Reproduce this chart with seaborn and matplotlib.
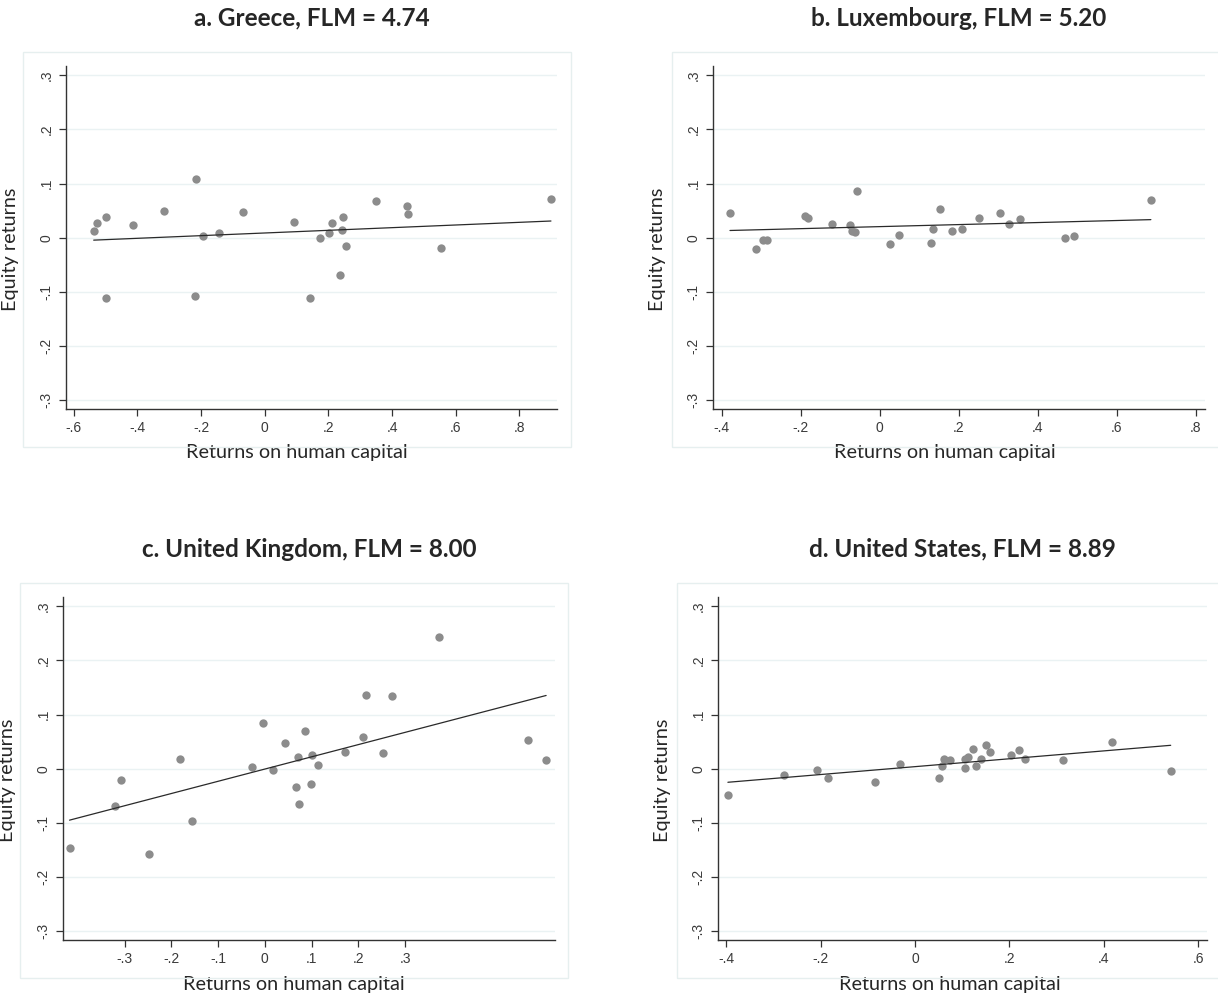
import matplotlib
matplotlib.use('Agg')
import matplotlib.pyplot as plt
import seaborn as sns
from matplotlib.patches import Rectangle

sns.set_style('ticks')
plt.rcParams['font.family'] = ['Lato', 'DejaVu Sans']

# Data
titles = ['a. Greece, FLM = 4.74', 'b. Luxembourg, FLM = 5.20',
          'c. United Kingdom, FLM = 8.00', 'd. United States, FLM = 8.89']

greece_x = [-0.537, -0.527, -0.499, -0.499, -0.415, -0.316, -0.217, -0.218, -0.193, -0.143,
            -0.068, 0.092, 0.143, 0.173, 0.201, 0.210, 0.245, 0.243, 0.237, 0.256,
            0.349, 0.446, 0.449, 0.555, 0.899]
greece_y = [0.013, 0.028, 0.038, -0.112, 0.023, 0.049, 0.108, -0.107, 0.003, 0.009,
            0.047, 0.030, -0.111, 0.000, 0.008, 0.027, 0.038, 0.014, -0.069, -0.015,
            0.067, 0.058, 0.043, -0.018, 0.071]

lux_x = [-0.379, -0.313, -0.296, -0.285, -0.189, -0.182, -0.121, -0.076, -0.069, -0.063,
         -0.057, 0.026, 0.049, 0.129, 0.134, 0.153, 0.183, 0.209, 0.251, 0.304,
         0.326, 0.355, 0.468, 0.491, 0.686]
lux_y = [0.046, -0.021, -0.004, -0.004, 0.040, 0.036, 0.025, 0.023, 0.013, 0.011,
         0.086, -0.012, 0.006, -0.010, 0.017, 0.054, 0.012, 0.017, 0.036, 0.045,
         0.026, 0.034, -0.001, 0.003, 0.069]

uk_x = [-0.418, -0.320, -0.307, -0.249, -0.182, -0.156, -0.028, -0.003, 0.018, 0.044,
        0.066, 0.071, 0.074, 0.087, 0.099, 0.101, 0.113, 0.172, 0.211, 0.217,
        0.252, 0.273, 0.372, 0.563, 0.602]
uk_y = [-0.146, -0.068, -0.021, -0.157, 0.018, -0.097, 0.004, 0.085, -0.003, 0.047,
        -0.034, 0.022, -0.065, 0.070, -0.029, 0.025, 0.007, 0.031, 0.059, 0.137,
        0.030, 0.134, 0.244, 0.054, 0.017]

us_x = [-0.397, -0.277, -0.207, -0.184, -0.084, -0.033, 0.051, 0.057, 0.061, 0.075,
        0.105, 0.106, 0.113, 0.123, 0.130, 0.140, 0.151, 0.158, 0.203, 0.221,
        0.234, 0.314, 0.417, 0.542]
us_y = [-0.049, -0.011, -0.003, -0.017, -0.025, 0.009, -0.017, 0.006, 0.018, 0.017,
        0.018, 0.001, 0.021, 0.036, 0.005, 0.018, 0.043, 0.031, 0.026, 0.035,
        0.018, 0.016, 0.050, -0.005]

y_ticks = [-0.3, -0.2, -0.1, 0, 0.1, 0.2, 0.3]
y_labels = ['-.3', '-.2', '-.1', '0', '.1', '.2', '.3']
greece_ticks = [-0.6, -0.4, -0.2, 0, 0.2, 0.4, 0.6, 0.8]
greece_labels = ['-.6', '-.4', '-.2', '0', '.2', '.4', '.6', '.8']
lux_ticks = [-0.4, -0.2, 0, 0.2, 0.4, 0.6, 0.8]
lux_labels = ['-.4', '-.2', '0', '.2', '.4', '.6', '.8']
uk_ticks = [-0.3, -0.2, -0.1, 0, 0.1, 0.2, 0.3]
uk_labels = ['-.3', '-.2', '-.1', '0', '.1', '.2', '.3']
us_ticks = [-0.4, -0.2, 0, 0.2, 0.4, 0.6]
us_labels = ['-.4', '-.2', '0', '.2', '.4', '.6']

panels = [
    (greece_x, greece_y, greece_ticks, greece_labels, (-0.624, 0.918)),
    (lux_x, lux_y, lux_ticks, lux_labels, (-0.422, 0.823)),
    (uk_x, uk_y, uk_ticks, uk_labels, (-0.432, 0.621)),
    (us_x, us_y, us_ticks, us_labels, (-0.418, 0.619)),
]

W, H = 1218, 996
# axes boxes in pixels: left, right, top, bottom
boxes = [(66, 557, 66, 409), (713, 1205, 66, 409),
         (63, 555, 597, 940), (718, 1207, 597, 940)]
# light outer frames: left, right, top, bottom
frames = [(23, 571, 52, 447), (672, 1220, 52, 447),
          (20, 568, 583, 978), (677, 1220, 583, 978)]
# x-axis title anchor (centre x, top y) in pixels
xlabel_pos = [(297, 444), (945, 444), (294, 976), (950, 976)]

fig = plt.figure(figsize=(W / 100, H / 100), dpi=100)

for i, (x, y, xt, xl, xlim) in enumerate(panels):
    l, r, t, b = boxes[i]
    fl, fr, ft, fb = frames[i]
    fig.patches.append(Rectangle((fl / W, 1 - fb / H), (fr - fl) / W, (fb - ft) / H,
                                 transform=fig.transFigure, fill=False,
                                 edgecolor='#e6efef', lw=1))
    ax = fig.add_axes([l / W, 1 - b / H, (r - l) / W, (b - t) / H])
    for yy in y_ticks:
        ax.axhline(yy, color='#eaf2f3', lw=1, zorder=0)
    sns.regplot(x=x, y=y, ax=ax, ci=None,
                scatter_kws=dict(s=36, color='#8c8c8c', linewidths=0, alpha=1),
                line_kws=dict(color='#2a2a2a', lw=0.9))
    ax.set_xlim(*xlim)
    ax.set_ylim(-0.316, 0.317)
    ax.set_xticks(xt)
    ax.set_xticklabels(xl, fontfamily='Liberation Sans', fontsize=10, color='#3a3a3a')
    ax.set_yticks(y_ticks)
    ax.set_yticklabels(y_labels, fontfamily='Liberation Sans', fontsize=10, color='#3a3a3a',
                       rotation=90, va='center')
    ax.tick_params(length=5, width=0.9, color='#333333')
    ax.tick_params(axis='x', pad=3.5)
    ax.tick_params(axis='y', pad=4)
    for s in ['top', 'right']:
        ax.spines[s].set_visible(False)
    for s in ['left', 'bottom']:
        ax.spines[s].set_color('#333333')
        ax.spines[s].set_linewidth(1.0)
    ax.set_xlabel('Returns on human capital', fontsize=14.3)
    ax.set_ylabel('Equity returns', fontsize=14.3)
    lx, ly = xlabel_pos[i]
    ax.xaxis.set_label_coords(lx / W, 1 - ly / H, transform=fig.transFigure)
    ax.yaxis.set_label_coords((l - 47) / W, 1 - (ft + fb) / 2 / H, transform=fig.transFigure)
    ax.set_title(titles[i], fontsize=17.5, fontweight='bold', pad=29)

fig.savefig('out.png', dpi=100)
